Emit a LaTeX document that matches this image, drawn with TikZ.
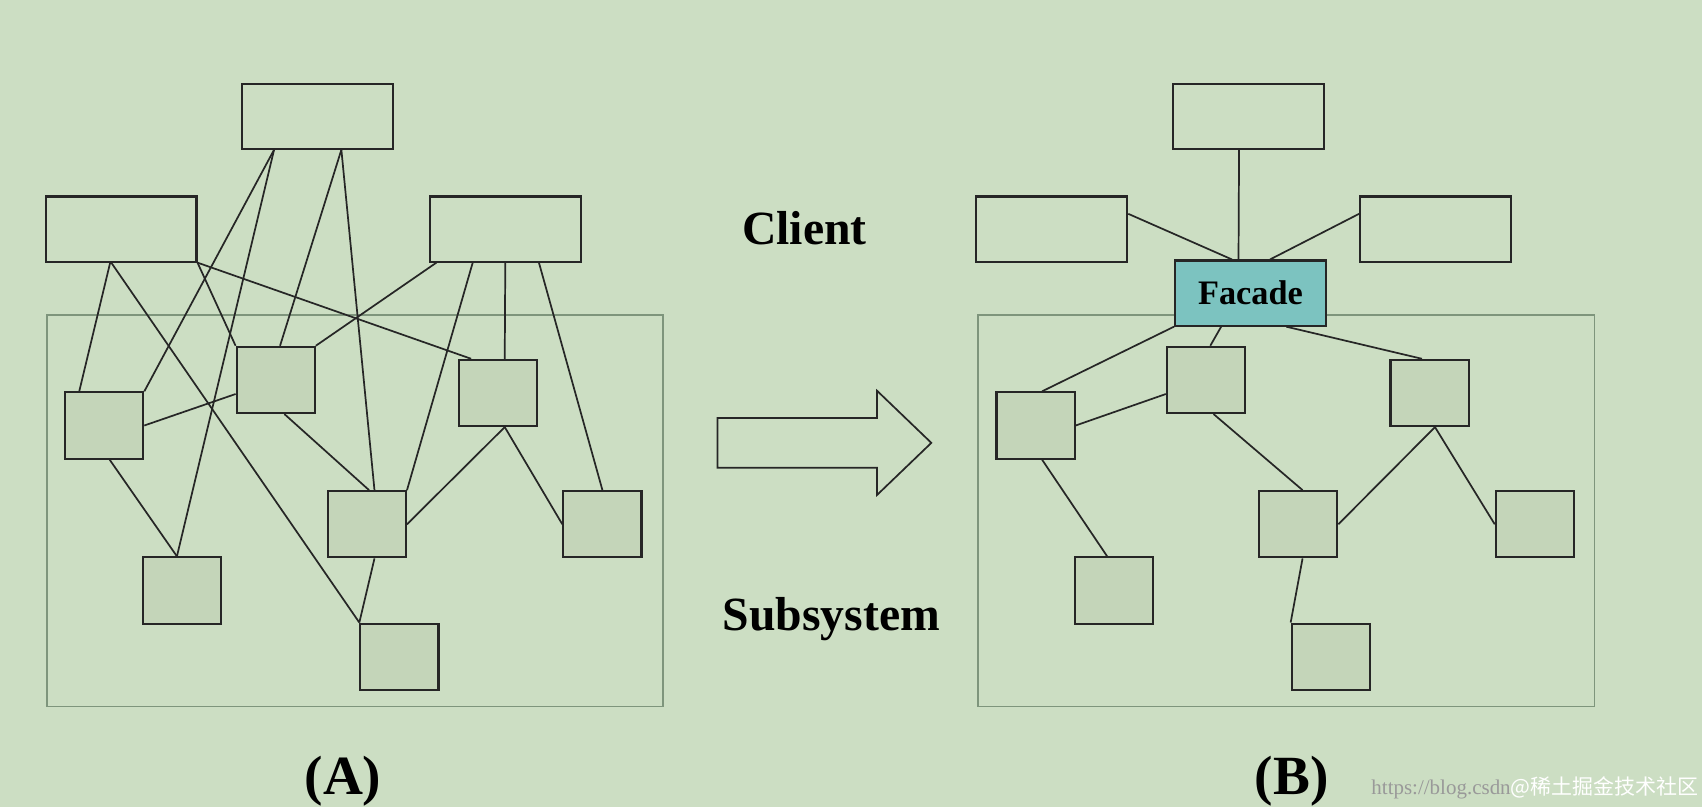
\documentclass[tikz,border=0pt]{standalone}
\usepackage{fontspec}
\setmainfont{Liberation Serif}
\newfontfamily\cjk{Noto Sans CJK SC}
\usetikzlibrary{calc}

\definecolor{bgGreen}{HTML}{CCDEC3}
\definecolor{boxGreen}{HTML}{C4D5B9}
\definecolor{frameGreen}{HTML}{7E957C}
\definecolor{facadeTeal}{HTML}{7CC3C0}

\begin{document}
\begin{tikzpicture}[x=0.02cm,y=-0.02cm,
  client/.style={draw=black!85,fill=bgGreen,line width=1.1pt,minimum width=2.78cm,minimum height=1.2cm,inner sep=0pt},
  part/.style={draw=black!85,fill=boxGreen,line width=1.1pt,minimum width=1.44cm,minimum height=1.22cm,inner sep=0pt},
  frame/.style={draw=frameGreen,line width=0.9pt},
  link/.style={black!85,line width=0.9pt},
  caption/.style={font=\bfseries\fontsize{25}{28}\selectfont}]
\fill[bgGreen] (0,0) rectangle (1568,743);
\useasboundingbox (0,0) rectangle (1568,743);

% (A) subsystem frame
\draw[frame] (43,290) rectangle (611,651);
% clients
\node[client] (ta) at (292.5,107) {};
\node[client] (la) at (111.5,211) {};
\node[client] (ra) at (465.5,211) {};
% parts
\node[part] (aa) at (96,392) {};
\node[part] (ba) at (254,350) {};
\node[part] (ca) at (459,362) {};
\node[part] (da) at (338,483) {};
\node[part] (ea) at (555,483) {};
\node[part] (fa) at (168,544) {};
\node[part] (ga) at (368,605) {};

\draw[link] ($(ta.south)+(-40,0)$) -- ($(fa.north)+(-5,0)$);
\draw[link] ($(ta.south)+(-40,0)$) -- (aa.north east);
\draw[link] ($(ta.south)+(22,0)$) -- ($(ba.north)+(4,0)$);
\draw[link] ($(ta.south)+(22,0)$) -- ($(da.north)+(7,0)$);
\draw[link] ($(la.south)+(-10,0)$) -- ($(aa.north)+(-23,0)$);
\draw[link] ($(la.south)+(-9,0)$) -- (ga.north west);
\draw[link] (la.south east) -- (ba.north west);
\draw[link] (la.south east) -- ($(ca.north west)+(12,0)$);
\draw[link] ($(ra.south west)+(7,0)$) -- (ba.north east);
\draw[link] ($(ra.south)+(-30,0)$) -- (da.north east);
\draw[link] (ra.south) -- ($(ca.north)+(6,0)$);
\draw[link] ($(ra.south)+(31,0)$) -- (ea.north);
\draw[link] (aa.east) -- ($(ba.west)+(0,13)$);
\draw[link] ($(aa.south)+(5,0)$) -- ($(fa.north)+(-5,0)$);
\draw[link] ($(ba.south)+(8,0)$) -- ($(da.north)+(2,0)$);
\draw[link] ($(ca.south)+(6,0)$) -- (da.east);
\draw[link] ($(ca.south)+(6,0)$) -- (ea.west);
\draw[link] ($(da.south)+(7,0)$) -- (ga.north west);

% arrow
\draw[black!85,line width=0.9pt,fill=bgGreen] (661,385) -- (808,385) -- (808,360) -- (858,408)
  -- (808,456) -- (808,431) -- (661,431) -- cycle;

% labels
\node[caption] (client) at (741,210) {Client};
\node[caption] (subsys) at (766,570) {Subsystem};
\node[caption,font=\bfseries\fontsize{29}{33}\selectfont] (capA) at (316,720) {(A)};
\node[caption,font=\bfseries\fontsize{29}{33}\selectfont] (capB) at (1190,720) {(B)};

% (B) subsystem frame
\draw[frame] (901,290) rectangle (1469,651);
\node[client] (tb) at (1150.5,107) {};
\node[client] (lb) at (969,211) {};
\node[client] (rb) at (1322.5,211) {};
\node[client,fill=facadeTeal,font=\bfseries\fontsize{18}{22}\selectfont] (facade) at (1152,270) {Facade};
\node[part] (ab) at (954,392) {};
\node[part] (bb) at (1111,350) {};
\node[part] (cb) at (1317,362) {};
\node[part] (db) at (1196,483) {};
\node[part] (eb) at (1414,483) {};
\node[part] (fb) at (1026,544) {};
\node[part] (gb) at (1226,605) {};

\draw[link] ($(tb.south)+(-9,0)$) -- ($(facade.north)+(-11,0)$);
\draw[link] ($(lb.east)+(0,-14)$) -- ($(facade.north)+(-17,0)$);
\draw[link] ($(rb.west)+(0,-14)$) -- ($(facade.north)+(18,0)$);
\draw[link] (facade.south west) -- ($(ab.north)+(6,0)$);
\draw[link] ($(facade.south)+(-27,0)$) -- ($(bb.north)+(4,0)$);
\draw[link] ($(facade.south)+(33,0)$) -- ($(cb.north)+(-7,0)$);
\draw[link] (ab.east) -- ($(bb.west)+(0,13)$);
\draw[link] ($(ab.south)+(6,0)$) -- ($(fb.north)+(-6,0)$);
\draw[link] ($(bb.south)+(7,0)$) -- ($(db.north)+(4,0)$);
\draw[link] ($(cb.south)+(5,0)$) -- (db.east);
\draw[link] ($(cb.south)+(5,0)$) -- (eb.west);
\draw[link] ($(db.south)+(4,0)$) -- (gb.north west);

% watermark
\node[anchor=east,inner sep=0pt,font=\fontsize{11}{13}\selectfont] (mark) at (1565,726)
  {\textcolor{black!40}{https://blog.csdn}\textcolor{white}{\cjk @稀土掘金技术社区}};
\end{tikzpicture}
\end{document}
